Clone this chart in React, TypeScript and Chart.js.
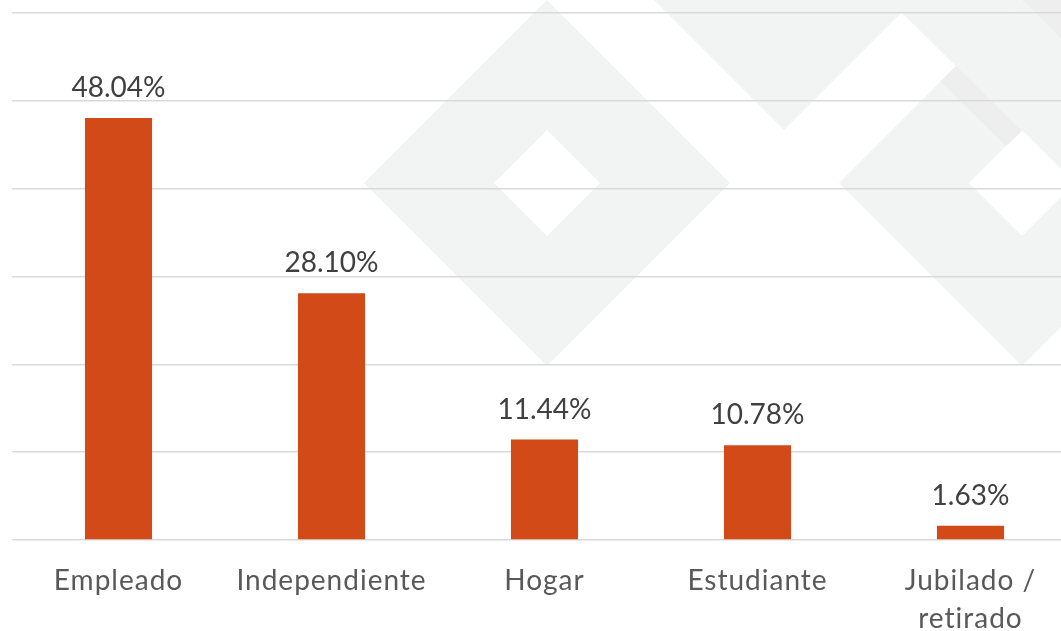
import React, { useEffect, useRef } from "react";
import { Chart, registerables } from "chart.js";

Chart.register(...registerables);

const categories: (string | string[])[] = [
  "Empleado",
  "Independiente",
  "Hogar",
  "Estudiante",
  ["Jubilado /", "retirado"],
];
const values: number[] = [48.04, 28.1, 11.44, 10.78, 1.63];
const yTicks: number[] = [0, 10, 20, 30, 40, 50, 60];

const BAR_COLOR = "#D24A18";
const FONT = "Lato";

type Pt = [number, number];

const diamond = (cx: number, cy: number, r: number): Pt[] => [
  [cx, cy - r],
  [cx + r, cy],
  [cx, cy + r],
  [cx - r, cy],
];

const watermark = {
  id: "watermark",
  beforeDraw(chart: any) {
    const ctx: CanvasRenderingContext2D = chart.ctx;
    const poly = (pts: Pt[]) => {
      ctx.moveTo(pts[0][0], pts[0][1]);
      for (let i = 1; i < pts.length; i++) ctx.lineTo(pts[i][0], pts[i][1]);
      ctx.closePath();
    };
    ctx.save();
    ctx.fillStyle = "#ffffff";
    ctx.fillRect(0, 0, chart.width, chart.height);
    ctx.fillStyle = "#F2F3F3";
    ctx.beginPath();
    poly(diamond(547, 183, 183));
    poly(diamond(547, 183, 53));
    poly(diamond(1022, 183, 183));
    poly(diamond(1022, 183, 53));
    ctx.fill("evenodd");
    ctx.beginPath();
    poly([
      [654, 0],
      [784, 130],
      [901.5, 12.5],
      [956, 66],
      [1022, 0],
    ]);
    ctx.fill();
    ctx.fillStyle = "#EEEEEE";
    ctx.beginPath();
    poly([
      [956, 66],
      [1022, 131],
      [1006, 146],
      [940.5, 81.5],
    ]);
    poly([
      [1022, 0],
      [1090, 68],
      [1090, 0],
    ]);
    ctx.fill();
    ctx.restore();
    // letter spacing for the category labels drawn by the x axis
    (ctx as any).letterSpacing = "1px";
  },
};

const valueLabels = {
  id: "valueLabels",
  afterDatasetsDraw(chart: any) {
    const ctx: CanvasRenderingContext2D = chart.ctx;
    const meta = chart.getDatasetMeta(0);
    ctx.save();
    (ctx as any).letterSpacing = "0px";
    ctx.font = `28px ${FONT}`;
    ctx.fillStyle = "#404040";
    ctx.textAlign = "center";
    ctx.textBaseline = "alphabetic";
    meta.data.forEach((bar: any, i: number) => {
      ctx.fillText(values[i].toFixed(2) + "%", bar.x, bar.y - 21);
    });
    ctx.restore();
  },
};

export default function App() {
  const ref = useRef<HTMLCanvasElement>(null);

  useEffect(() => {
    if (!ref.current) return;
    const chart = new Chart(ref.current, {
      type: "bar",
      data: {
        labels: categories as any,
        datasets: [
          {
            data: values,
            backgroundColor: BAR_COLOR,
            borderWidth: 0,
            barPercentage: 0.315,
            categoryPercentage: 1,
          },
        ],
      },
      options: {
        animation: false,
        responsive: false,
        devicePixelRatio: 1,
        layout: { padding: { left: 12, right: 3, top: 13, bottom: 0 } },
        plugins: {
          legend: { display: false },
          tooltip: { enabled: false },
        },
        scales: {
          x: {
            grid: { display: false },
            border: { display: false },
            ticks: {
              color: "#595959",
              font: { family: FONT, size: 28, lineHeight: 1.35 },
              padding: 14,
              maxRotation: 0,
              autoSkip: false,
            },
            afterFit: (s: any) => {
              s.height = 91;
            },
          },
          y: {
            min: 0,
            max: 60,
            afterBuildTicks: (s: any) => {
              s.ticks = yTicks.map((v) => ({ value: v }));
            },
            grid: { color: "#D9D9D9", lineWidth: 1.5, drawTicks: false },
            border: { display: false },
            ticks: { display: false },
          },
        },
      },
      plugins: [watermark, valueLabels],
    });
    return () => chart.destroy();
  }, []);

  return (
    <div
      style={{
        position: "fixed",
        left: 0,
        top: 0,
        width: 1061,
        height: 631,
        overflow: "hidden",
        background: "#fff",
      }}
    >
      <canvas ref={ref} width={1080} height={631} style={{ display: "block" }} />
    </div>
  );
}
